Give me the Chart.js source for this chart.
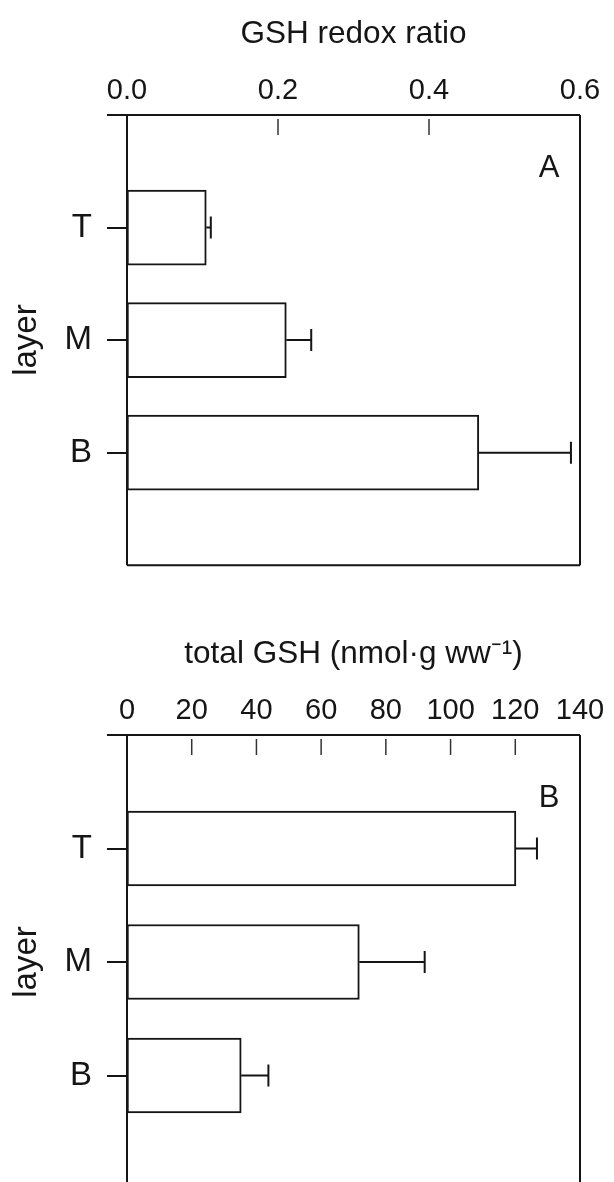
<!DOCTYPE html>
<html>
<head>
<meta charset="utf-8">
<script src="https://cdn.jsdelivr.net/npm/chart.js@4.4.0/dist/chart.umd.min.js"></script>
<style>
  html, body { margin: 0; padding: 0; background: #fff; width: 614px; height: 1182px; overflow: hidden; }
  canvas { position: absolute; left: 0; }
  #redox { top: 0; }
  #total { top: 620px; }
</style>
</head>
<body>
<canvas id="redox" width="614" height="600"></canvas>
<canvas id="total" width="614" height="640"></canvas>
<script>
/* GSH per layer: redox ratio (A) and total GSH (B), horizontal bars with one-sided error bars */

const layers = ['T', 'M', 'B'];

const redoxMean = [0.105, 0.211, 0.466];
const redoxErr = [0.006, 0.033, 0.122];
const redoxTicks = [0, 0.2, 0.4, 0.6];

const totalMean = [120.2, 71.8, 35.3];
const totalErr = [6.5, 20.2, 8.4];
const totalTicks = [0, 20, 40, 60, 80, 100, 120, 140];

const INK = '#151515';
const FONT = "'Liberation Sans', Arial, sans-serif";

// frame, inward x ticks, error bars and panel letter
const panelMarks = {
  id: 'panelMarks',
  afterDatasetsDraw(chart, args, opts) {
    const { ctx, chartArea: a, scales: { x } } = chart;
    const ds = chart.data.datasets[0];
    const meta = chart.getDatasetMeta(0);
    ctx.save();
    ctx.strokeStyle = INK;
    ctx.lineWidth = 2;
    ds.data.forEach((v, i) => {
      if (v == null) return;
      const y = meta.data[i].y;
      const x0 = x.getPixelForValue(v);
      const x1 = x.getPixelForValue(v + ds.errors[i]);
      ctx.beginPath();
      ctx.moveTo(x0, y); ctx.lineTo(x1, y);
      ctx.moveTo(x1, y - 11); ctx.lineTo(x1, y + 11);
      ctx.stroke();
    });

    // box round the plot; the top line runs a little past the left axis
    ctx.beginPath();
    ctx.moveTo(a.left - 20, a.top); ctx.lineTo(a.right, a.top);
    ctx.moveTo(a.left, a.top); ctx.lineTo(a.left, a.bottom);
    ctx.moveTo(a.right, a.top); ctx.lineTo(a.right, a.bottom);
    ctx.moveTo(a.left, a.bottom); ctx.lineTo(a.right, a.bottom);
    ctx.stroke();

    ctx.strokeStyle = '#333';
    ctx.lineWidth = 1.5;
    x.ticks.slice(1, -1).forEach((t) => {
      const px = x.getPixelForValue(t.value);
      ctx.beginPath();
      ctx.moveTo(px, a.top + 4); ctx.lineTo(px, a.top + 20);
      ctx.stroke();
    });

    ctx.fillStyle = INK;
    ctx.font = '31px ' + FONT;
    ctx.textAlign = 'center';
    ctx.textBaseline = 'middle';
    ctx.fillText(opts.letter, a.right - 31, a.top + opts.letterDy);
    ctx.restore();
  },
};

function buildPanel(id, cfg) {
  return new Chart(document.getElementById(id), {
    type: 'bar',
    data: {
      labels: ['', ...layers, ''],
      datasets: [{
        data: [null, ...cfg.means, null],
        errors: [null, ...cfg.errors, null],
        backgroundColor: '#fff',
        borderColor: INK,
        borderWidth: 2,
        borderSkipped: false,
        barThickness: 75,
      }],
    },
    options: {
      indexAxis: 'y',
      responsive: false,
      animation: false,
      layout: { padding: { top: 0, left: 0, right: 34, bottom: cfg.bottomPad } },
      plugins: {
        legend: { display: false },
        tooltip: { enabled: false },
        panelMarks: { letter: cfg.letter, letterDy: cfg.letterDy },
      },
      scales: {
        x: {
          type: 'linear', position: 'top',
          min: cfg.ticks[0], max: cfg.ticks[cfg.ticks.length - 1],
          afterBuildTicks: (s) => { s.ticks = cfg.ticks.map((v) => ({ value: v })); },
          afterFit: (s) => { s.height = 115; },
          grid: { display: false, drawTicks: false },
          border: { display: false },
          ticks: { color: INK, font: { family: FONT, size: 29 }, padding: 7, maxRotation: 0, autoSkip: false, callback: cfg.fmt },
          title: { display: true, text: cfg.title, color: INK, font: { family: FONT, size: 31.5 }, padding: { top: 15, bottom: 0 } },
        },
        y: {
          type: 'category', offset: false,
          afterFit: (s) => { s.width = 127; },
          grid: {
            offset: false, drawOnChartArea: false, drawTicks: true, tickLength: 20, lineWidth: 2,
            color: (c) => (c.tick && c.tick.label ? INK : 'rgba(0,0,0,0)'),
          },
          border: { display: false },
          ticks: { color: INK, font: { family: FONT, size: 33 }, padding: 15, autoSkip: false },
          title: { display: true, text: 'layer', color: INK, font: { family: FONT, size: 33 }, padding: { top: 7, bottom: 0 } },
        },
      },
    },
    plugins: [panelMarks],
  });
}

buildPanel('redox', {
  means: redoxMean, errors: redoxErr, ticks: redoxTicks,
  fmt: (v) => Number(v).toFixed(1),
  title: 'GSH redox ratio', letter: 'A', letterDy: 53, bottomPad: 32,
});

buildPanel('total', {
  means: totalMean, errors: totalErr, ticks: totalTicks,
  fmt: (v) => String(v),
  title: 'total GSH (nmol\u00b7g ww\u207b\u00b9)', letter: 'B', letterDy: 63, bottomPad: 71,
});
</script>
</body>
</html>
